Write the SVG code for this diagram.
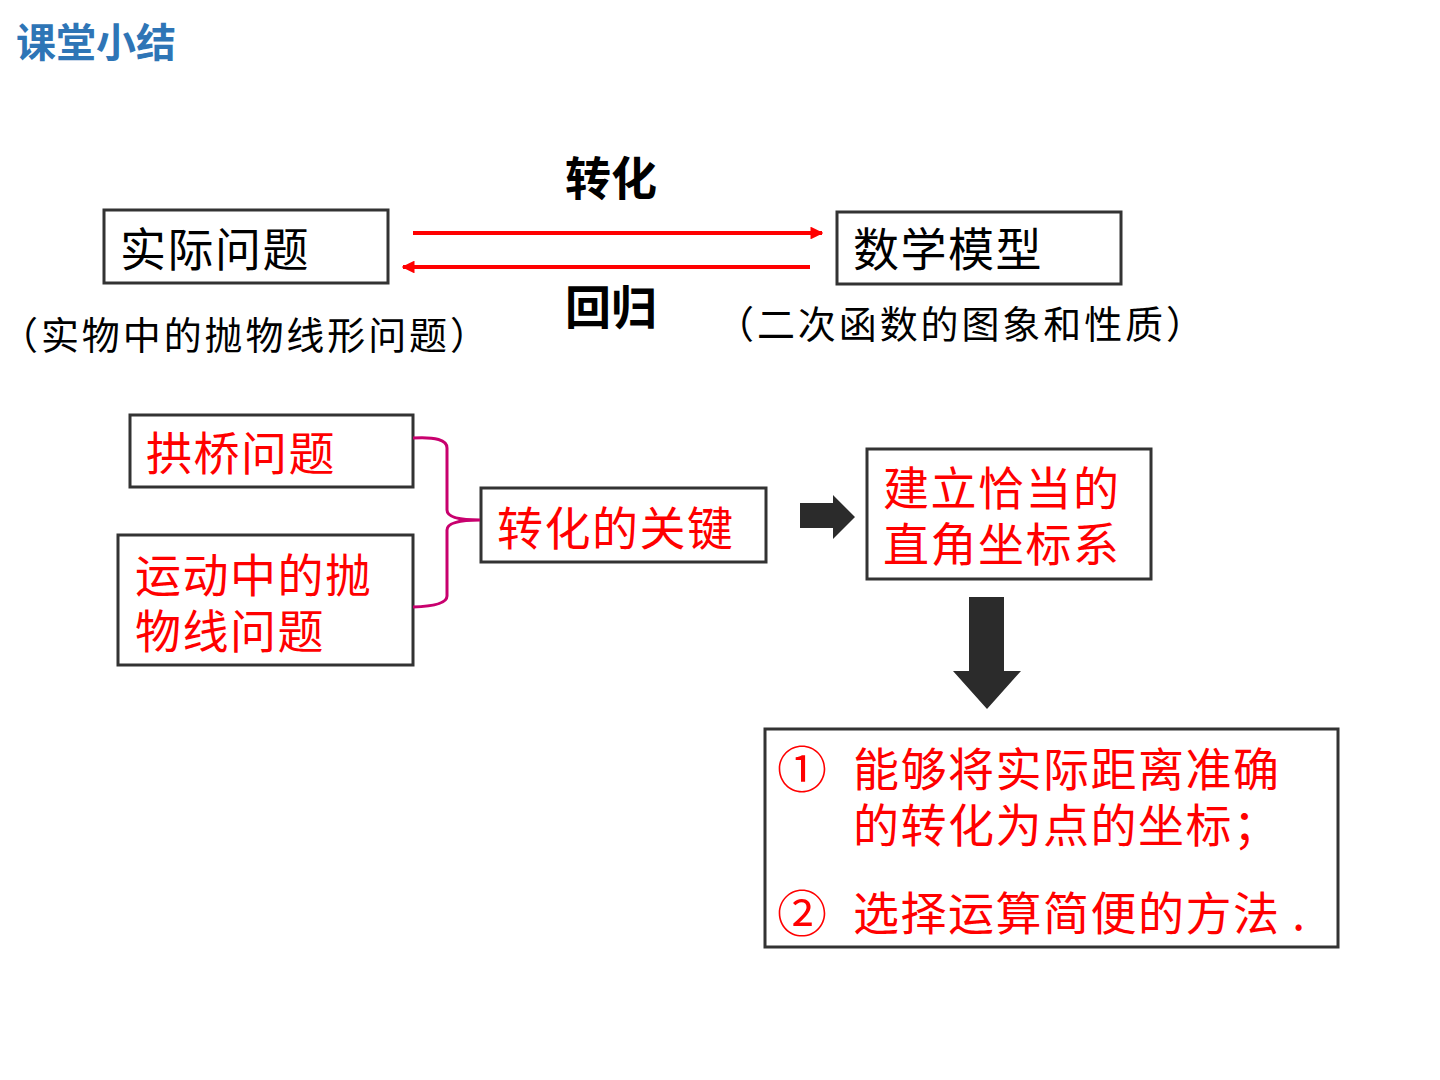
<svg xmlns="http://www.w3.org/2000/svg" width="1440" height="1080" viewBox="0 0 1440 1080">
  <style>
    .box { fill: #ffffff; stroke: #333333; stroke-width: 3; }
    .cjk { font-family: "Noto Sans CJK SC", "Noto Sans", sans-serif; }
    .lbl { font-size: 46px; letter-spacing: 1.5px; fill: #000000; }
    .red { font-size: 46px; letter-spacing: 1.5px; fill: #ff0000; }
    .num { font-size: 50px; fill: #ff0000; }
    .note { font-size: 38px; fill: #000000; }
    .bold { font-size: 46px; font-weight: bold; fill: #000000; }
    .link { stroke: #ff0000; stroke-width: 4; fill: none; }
    .block { fill: #2b2b2b; }
  </style>
  <defs>
    <marker id="redHead" viewBox="0 0 10 10" refX="9" refY="5" markerWidth="3.2" markerHeight="3.2" orient="auto-start-reverse">
      <path d="M0,0 L10,5 L0,10 Z" fill="#ff0000"/>
    </marker>
  </defs>

  <rect width="1440" height="1080" fill="#ffffff"/>

  <text class="cjk" x="16" y="57" font-size="40" font-weight="bold" fill="#2e75b6">课堂小结</text>

  <!-- top row nodes -->
  <g id="node-real">
    <rect class="box" x="104" y="210" width="284" height="73"/>
    <text class="cjk lbl" x="120" y="266">实际问题</text>
  </g>
  <g id="node-model">
    <rect class="box" x="837" y="212" width="284" height="72"/>
    <text class="cjk lbl" x="853" y="266">数学模型</text>
  </g>
  <g id="note-real">
    <text class="cjk note" x="0" y="349" textLength="488" lengthAdjust="spacing">（实物中的抛物线形问题）</text>
  </g>
  <g id="note-model">
    <text class="cjk note" x="716" y="338" textLength="488" lengthAdjust="spacing">（二次函数的图象和性质）</text>
  </g>

  <!-- middle row nodes -->
  <g id="node-arch">
    <rect class="box" x="130" y="415" width="283" height="72"/>
    <text class="cjk red" x="146" y="470">拱桥问题</text>
  </g>
  <g id="node-motion">
    <rect class="box" x="118" y="535" width="295" height="130"/>
    <text class="cjk red"><tspan x="135" y="592">运动中的抛</tspan><tspan x="135" y="648">物线问题</tspan></text>
  </g>
  <g id="node-key">
    <rect class="box" x="481" y="488" width="285" height="74"/>
    <text class="cjk red" x="497" y="545">转化的关键</text>
  </g>
  <g id="node-axes">
    <rect class="box" x="867" y="449" width="284" height="130"/>
    <text class="cjk red"><tspan x="883" y="505">建立恰当的</tspan><tspan x="883" y="561">直角坐标系</tspan></text>
  </g>
  <g id="node-steps">
    <rect class="box" x="765" y="729" width="573" height="218"/>
    <text class="cjk num" x="777" y="788">①</text>
    <text class="cjk red"><tspan x="853" y="786">能够将实际距离准确</tspan><tspan x="853" y="842">的转化为点的坐标；</tspan></text>
    <text class="cjk num" x="777" y="932">②</text>
    <text class="cjk red" x="853" y="930">选择运算简便的方法 .</text>
  </g>

  <!-- connectors -->
  <g id="connectors">
    <line class="link" x1="413" y1="233" x2="822" y2="233" marker-end="url(#redHead)"/>
    <line class="link" x1="810" y1="267" x2="403" y2="267" marker-end="url(#redHead)"/>
    <text class="cjk bold" x="611" y="195" text-anchor="middle">转化</text>
    <text class="cjk bold" x="611" y="324" text-anchor="middle">回归</text>

    <path d="M413,438 Q447,436 447,448 L447,510 Q447,520 480,520 Q447,520 447,530 L447,596 Q447,606 413,607" fill="none" stroke="#c8006e" stroke-width="3"/>

    <path class="block" d="M800,503 L833,503 L833,495 L855,517 L833,539 L833,528 L800,528 Z"/>
    <path class="block" d="M969,597 L1004,597 L1004,671 L1021,671 L987,709 L953,671 L969,671 Z"/>
  </g>
</svg>
